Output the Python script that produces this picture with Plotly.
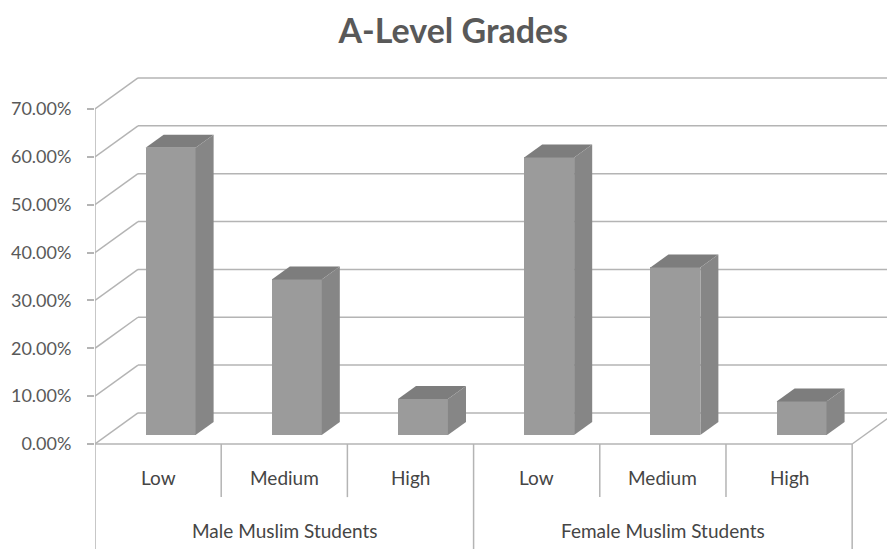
import plotly.graph_objects as go

# Data
groups = ["Male Muslim Students", "Female Muslim Students"]
grades = ["Low", "Medium", "High"]
male_share = [0.600, 0.325, 0.075]
female_share = [0.580, 0.350, 0.070]
tick_values = [0.0, 0.1, 0.2, 0.3, 0.4, 0.5, 0.6, 0.7]

values = male_share + female_share
n_cat = len(values)

# Pseudo-3D projection: depth z in [0, 1] shifts a point right and up
DX = 0.3407   # x shift at full depth (category units)
DY = 0.0648   # y shift at full depth (fraction units)
Z_FRONT, Z_BACK = 0.29, 0.71
HALF_W = 0.198

X_MIN, X_MAX = -0.5, 5.776
Y_MIN, Y_MAX = -0.2194, 0.8023

FRONT = "#9b9b9b"
TOP = "#7d7d7d"
SIDE = "#868686"
GRID = "#b4b4b4"
TEXT = "#595959"
LABEL = "#454545"


def proj(x, y, z):
    return x + z * DX, y + z * DY


fig = go.Figure()

# Front faces of the columns
fig.add_trace(go.Bar(
    x=[i + Z_FRONT * DX for i in range(n_cat)],
    y=values,
    base=[Z_FRONT * DY] * n_cat,
    width=2 * HALF_W,
    marker=dict(color=FRONT, line=dict(width=0)),
    hoverinfo="skip",
    showlegend=False,
))

# Top and side faces, derived from each value
for i, v in enumerate(values):
    xl, xr = i - HALF_W, i + HALF_W
    top = [proj(xl, v, Z_FRONT), proj(xr, v, Z_FRONT),
           proj(xr, v, Z_BACK), proj(xl, v, Z_BACK)]
    side = [proj(xr, 0, Z_FRONT), proj(xr, v, Z_FRONT),
            proj(xr, v, Z_BACK), proj(xr, 0, Z_BACK)]
    for poly, col in ((top, TOP), (side, SIDE)):
        xs = [p[0] for p in poly] + [poly[0][0]]
        ys = [p[1] for p in poly] + [poly[0][1]]
        fig.add_trace(go.Scatter(
            x=xs, y=ys, mode="lines", fill="toself", fillcolor=col,
            line=dict(width=0, color=col), hoverinfo="skip", showlegend=False,
        ))

shapes = []


def seg(x0, y0, x1, y1, color=GRID, width=1.5):
    shapes.append(dict(type="line", xref="x", yref="y", x0=x0, y0=y0, x1=x1, y1=y1,
                       line=dict(color=color, width=width), layer="below"))


# Back wall gridlines and left wall diagonals
for t in tick_values:
    bx, by = proj(-0.5, t, 1.0)
    seg(bx, by, 5.5 + DX, by)
    seg(-0.5, t, bx, by)

# Floor front edge and right diagonal
seg(-0.5, 0, 5.5, 0)
seg(5.5, 0, 5.5 + DX, DY)

# Vertical value axis line, continuing down through the category box
seg(-0.5, tick_values[-1], -0.5, Y_MIN)

# Category separators
for k in range(1, n_cat):
    bottom = Y_MIN if k % len(grades) == 0 else -0.111
    seg(k - 0.5, 0, k - 0.5, bottom)
seg(n_cat - 0.5, 0, n_cat - 0.5, Y_MIN)

annotations = []
for i in range(n_cat):
    annotations.append(dict(x=i, y=-0.071, xref="x", yref="y", text=grades[i % len(grades)],
                            showarrow=False, font=dict(size=19, color=LABEL, family="Lato")))
for g, name in enumerate(groups):
    annotations.append(dict(x=g * len(grades) + 1, y=-0.18, xref="x", yref="y", text=name,
                            showarrow=False, font=dict(size=19, color=LABEL, family="Lato")))

fig.update_layout(
    width=887, height=549,
    margin=dict(l=95, r=0, t=60, b=0, pad=0),
    paper_bgcolor="white", plot_bgcolor="white",
    font=dict(family="Lato", color=TEXT),
    title=dict(text="<b>A-Level Grades</b>", x=0.511, xref="container", xanchor="center",
               y=1 - 31 / 549, yref="container", yanchor="middle",
               font=dict(size=34, color=TEXT, family="Lato")),
    xaxis=dict(range=[X_MIN, X_MAX], showgrid=False, zeroline=False, showticklabels=False,
               showline=False, ticks="", fixedrange=True),
    yaxis=dict(range=[Y_MIN, Y_MAX], showgrid=False, zeroline=False, showline=False,
               tickvals=tick_values, tickformat=".2%", ticks="outside", ticklen=7,
               tickwidth=1.5, tickcolor=GRID, ticklabelstandoff=12,
               tickfont=dict(size=18, color=TEXT, family="Lato"), fixedrange=True),
    shapes=shapes,
    annotations=annotations,
    bargap=0,
)

fig.write_html("out.html")
